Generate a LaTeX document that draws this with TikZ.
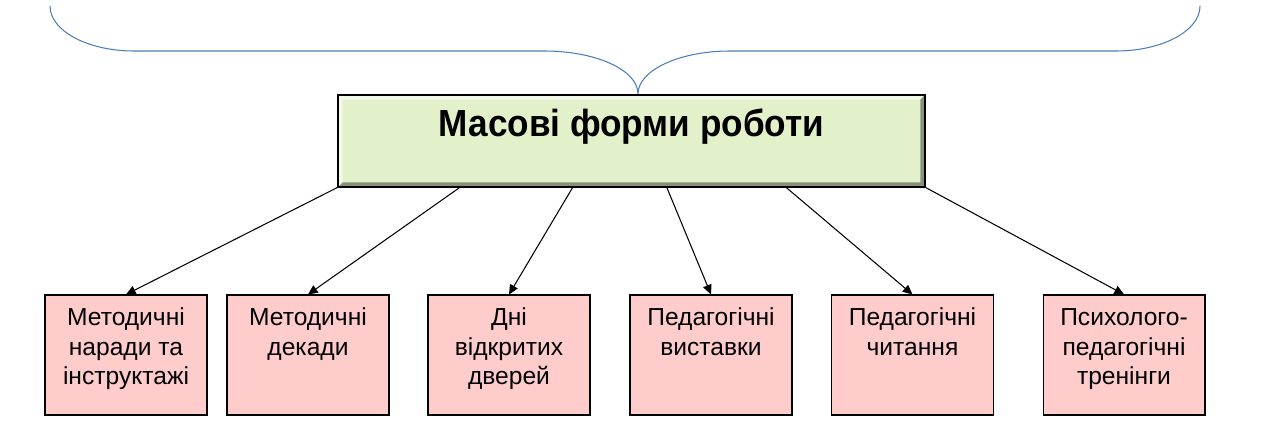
\documentclass[tikz,border=0pt]{standalone}
\usepackage{fontspec}
\setmainfont{Liberation Sans}
\usetikzlibrary{arrows.meta,calc}

\definecolor{mainfill}{HTML}{E3F1CB}
\definecolor{formfill}{HTML}{FFCCCC}
\definecolor{bracecol}{HTML}{4A7EBB}

\newcommand{\formtext}[1]{\parbox[t][2.4cm][t]{3.24cm}{\centering\vspace*{6pt}\strut#1}}

\tikzset{
    mainbox/.style={fill=mainfill, minimum width=11.74cm, minimum height=1.84cm,
        inner sep=0pt, font=\fontsize{21.5}{25}\selectfont\bfseries\addfontfeature{FakeStretch=0.93},
        text height=0.5cm, text depth=0.66cm},
    formbox/.style={draw, fill=formfill, line width=0.6pt, inner sep=0pt,
        font=\fontsize{14}{16.6}\selectfont},
    link/.style={->, line width=0.6pt}
}

\begin{document}
\begin{tikzpicture}[x=0.02cm, y=-0.02cm, >={Triangle[length=5.5pt, width=5pt]}]
    \useasboundingbox (0,0) rectangle (1280,442);
    % фігурна дужка
    \draw[bracecol, line width=0.6pt] (50,6) .. controls (50,31) and (88,51) .. (134,51)
        -- (544,51) .. controls (596,51) and (638,70) .. (638,94)
        .. controls (638,70) and (680,51) .. (730,51)
        -- (1116,51) .. controls (1162,51) and (1200,31) .. (1200,6);
    % головний блок
    \node[mainbox] (main) at (631.5,141) {Масові форми роботи};
    \fill[white, opacity=0.6] (main.north west) -- (main.north east) -- ($(main.north east)+(-5,5)$)
        -- ($(main.north west)+(5,5)$) -- ($(main.south west)+(5,-5)$) -- (main.south west) -- cycle;
    \fill[black!40!mainfill] (main.south west) -- (main.south east) -- (main.north east)
        -- ($(main.north east)+(-5,5)$) -- ($(main.south east)+(-5,-5)$) -- ($(main.south west)+(5,-5)$) -- cycle;
    \draw[line width=1.3pt] (main.south west) rectangle (main.north east);
    % форми
    \node[formbox] (f1) at (126,355) {\formtext{Методичні\\наради та\\інструктажі}};
    \node[formbox] (f2) at (308,355) {\formtext{Методичні\\декади}};
    \node[formbox] (f3) at (509,355) {\formtext{Дні\\відкритих\\дверей}};
    \node[formbox] (f4) at (711,355) {\formtext{Педагогічні\\виставки}};
    \node[formbox] (f5) at (912.5,355) {\formtext{Педагогічні\\читання}};
    \node[formbox] (f6) at (1124,355) {\formtext{Психолого-\\педагогічні\\тренінги}};
    % стрілки
    \draw[link] (main.south west) -- (f1.north);
    \draw[link] ($(main.south west)!0.208!(main.south east)$) -- (f2.north);
    \draw[link] ($(main.south west)!0.400!(main.south east)$) -- (f3.north);
    \draw[link] ($(main.south west)!0.560!(main.south east)$) -- (f4.north);
    \draw[link] ($(main.south west)!0.763!(main.south east)$) -- (f5.north);
    \draw[link] (main.south east) -- (f6.north);
\end{tikzpicture}
\end{document}
